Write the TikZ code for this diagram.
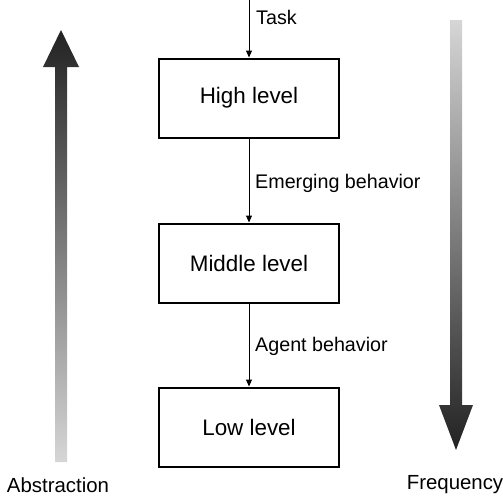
\documentclass[tikz,border=0pt]{standalone}
\usepackage{fontspec}
\setmainfont{Liberation Sans}
\usetikzlibrary{arrows.meta}
\definecolor{arrdark}{RGB}{34,34,34}
\definecolor{arrlight}{RGB}{214,214,214}
\begin{document}
\begin{tikzpicture}[x=1pt,y=-1pt,
  levelbox/.style={draw, line width=2pt, minimum width=180pt, minimum height=79pt,
    inner sep=0pt, font=\fontsize{22.4}{26}\selectfont},
  conn/.style={line width=1pt, -{Triangle[length=7pt,width=6pt]}},
  edgelbl/.style={anchor=west, inner sep=0pt, font=\fontsize{19.7}{23}\selectfont},
  sidelbl/.style={inner sep=0pt, font=\fontsize{20.4}{24}\selectfont}]
\useasboundingbox (0,0) rectangle (503,498);
% shaded arrows
\shade[top color=arrdark, bottom color=arrlight]
  (55,462) -- (55,67) -- (43,67) -- (61,30) -- (79,67) -- (67,67) -- (67,462) -- cycle;
\shade[top color=arrlight, bottom color=arrdark]
  (450,20) -- (450,405) -- (439,405) -- (456,450) -- (473,405) -- (462,405) -- (462,20) -- cycle;
% boxes
\node[levelbox] (high) at (249,98) {High level};
\node[levelbox] (mid) at (249,263) {Middle level};
\node[levelbox] (low) at (249,427) {Low level};
\coordinate (top) at (249,0);
% connectors
\draw[conn] (top) -- (high.north);
\draw[conn] (high.south) -- (mid.north);
\draw[conn] (mid.south) -- (low.north);
% labels
\node[edgelbl] (task) at (256,17) {Task};
\node[edgelbl] (emerg) at (255,183) {Emerging behavior};
\node[edgelbl] (agent) at (255,346) {Agent behavior};
\node[sidelbl] (abs) at (58,485) {Abstraction};
\node[sidelbl] (freq) at (455,485) {Frequency};
\end{tikzpicture}
\end{document}
